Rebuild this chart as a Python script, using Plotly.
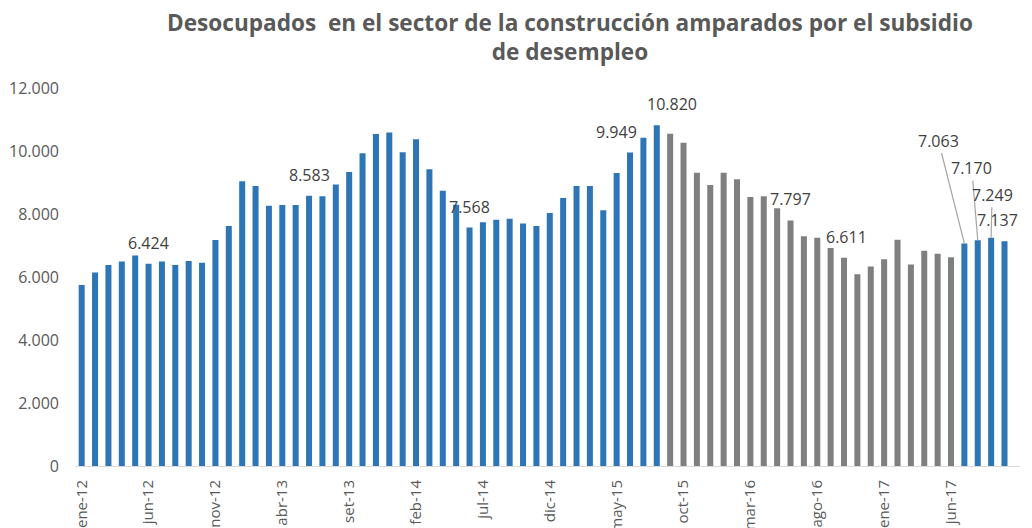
import plotly.graph_objects as go

months = ["ene", "feb", "mar", "abr", "may", "jun", "jul", "ago", "set", "oct", "nov", "dic"]
years = ["12", "13", "14", "15", "16", "17"]
categories = [f"{m}-{y}" for y in years for m in months][:70]  # ene-12 .. oct-17

values = [
    5750, 6140, 6380, 6490, 6680, 6424, 6490, 6380, 6510, 6450, 7175, 7620,   # 2012
    9040, 8890, 8265, 8285, 8285, 8583, 8560, 8940, 9330, 9930, 10540, 10590,  # 2013
    9960, 10370, 9420, 8740, 8290, 7568, 7740, 7820, 7850, 7700, 7620, 8030,   # 2014
    8510, 8890, 8890, 8120, 9300, 9949, 10420, 10820, 10550, 10260, 9310, 8920,  # 2015
    9310, 9100, 8540, 8560, 8180, 7797, 7290, 7250, 6920, 6611, 6090, 6330,    # 2016
    6560, 7180, 6400, 6830, 6740, 6630, 7063, 7170, 7249, 7137,                # 2017
]

grey_start = "set-15"
grey_end = "jun-17"

tick_labels = ["ene-12", "jun-12", "nov-12", "abr-13", "set-13", "feb-14", "jul-14",
               "dic-14", "may-15", "oct-15", "mar-16", "ago-16", "ene-17", "jun-17"]

y_ticks = [0, 2000, 4000, 6000, 8000, 10000, 12000]
y_tick_text = ["0", "2.000", "4.000", "6.000", "8.000", "10.000", "12.000"]

labeled = ["jun-12", "jun-13", "jun-14", "jun-15", "ago-15", "jun-16", "oct-16", "oct-17"]
label_xshift = {"jun-15": -14, "ago-15": 15, "oct-16": 2, "oct-17": -7}
arrow_labels = {"jul-17": (-26, -103), "ago-17": (-6, -72), "set-17": (1, -43)}

title_text = ("Desocupados  en el sector de la construcción amparados por el subsidio"
              "<br>de desempleo")

BLUE = "#2E75B6"
GREY = "#7F7F7F"
gs, ge = categories.index(grey_start), categories.index(grey_end)
colors = [GREY if gs <= i <= ge else BLUE for i in range(len(categories))]


def fmt(v):
    return f"{v:,}".replace(",", ".")


fig = go.Figure()
fig.add_trace(go.Bar(x=categories, y=values, marker=dict(color=colors, line=dict(width=0)),
                     hoverinfo="x+y"))

FONT = "Open Sans, sans-serif"
ann_font = dict(family=FONT, size=16, color="#404040")
annotations = []
for c in labeled:
    i = categories.index(c)
    annotations.append(dict(x=c, y=values[i], text=fmt(values[i]), showarrow=False,
                            yanchor="bottom", yshift=8, xshift=label_xshift.get(c, 0),
                            font=ann_font))
for c, (ax, ay) in arrow_labels.items():
    i = categories.index(c)
    annotations.append(dict(x=c, y=values[i], text=fmt(values[i]), showarrow=True,
                            arrowhead=0, arrowwidth=1.2, arrowcolor="#A6A6A6",
                            ax=ax, ay=ay, font=ann_font))

annotations.append(dict(text=title_text, xref="paper", yref="paper", x=0.524, y=1.136,
                        xanchor="center", yanchor="middle", showarrow=False,
                        font=dict(family=FONT, size=22.6, color="#595959", weight="bold")))

fig.update_layout(
    width=1032, height=528,
    margin=dict(l=67, r=20, t=80, b=70),
    paper_bgcolor="white", plot_bgcolor="white",
    showlegend=False,
    bargap=0.55,
    annotations=annotations,
    xaxis=dict(type="category", categoryorder="array", categoryarray=categories,
               tickmode="array", tickvals=tick_labels, ticktext=tick_labels,
               tickangle=-90, ticks="", showgrid=False, showline=True,
               linecolor="#D9D9D9", linewidth=1, automargin=False, ticklabelstandoff=7,
               tickfont=dict(family=FONT, size=15, color="#595959")),
    yaxis=dict(range=[0, 12000], tickmode="array", tickvals=y_ticks, ticktext=y_tick_text,
               showgrid=False, zeroline=False, showline=False, ticks="", automargin=False,
               ticklabelstandoff=15,
               tickfont=dict(family=FONT, size=16, color="#595959")),
)

fig.write_html("out.html")
